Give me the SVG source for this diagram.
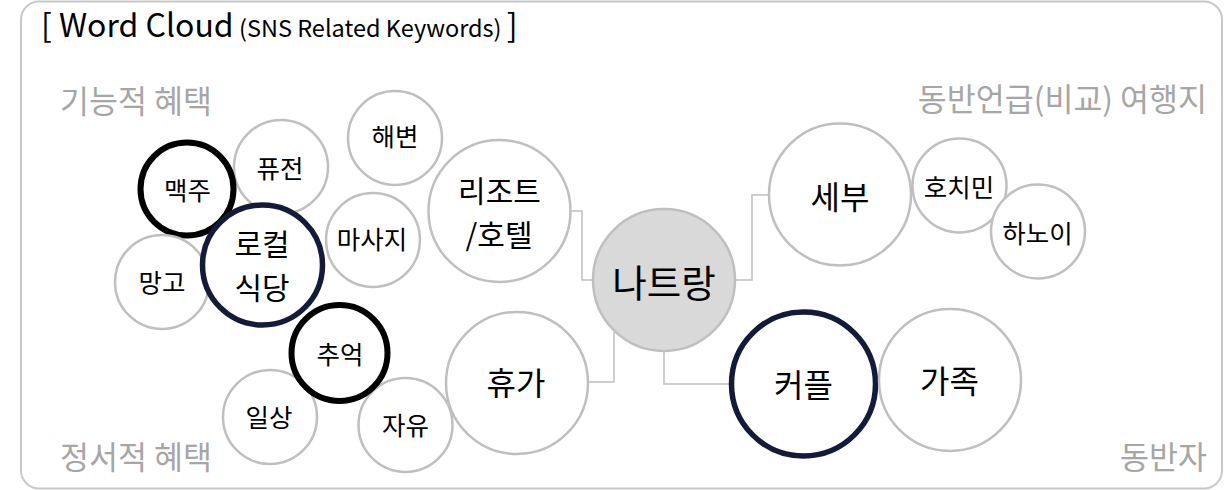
<svg xmlns="http://www.w3.org/2000/svg" width="1224" height="490" viewBox="0 0 1224 490">
<style>
text{font-family:"Noto Sans CJK KR","Noto Sans",sans-serif;}
.g{fill:#fff;stroke:#bfbfbf;stroke-width:2.5;}
.k{fill:#fff;stroke:#000;stroke-width:6;}
.n{fill:#fff;stroke:#141b38;stroke-width:5.5;}
.c{fill:#d9d9d9;stroke:#bfbfbf;stroke-width:2.5;}
.t{fill:#000;text-anchor:middle;dominant-baseline:central;}
.s{font-size:25.5px;}
.b{font-size:32px;}
.m{font-size:30px;}
.cat{fill:#a6a6a6;font-size:31.5px;dominant-baseline:central;}
.conn{fill:none;stroke:#bfbfbf;stroke-width:1.5;}
</style>
<rect x="21" y="1.5" width="1201" height="487" rx="18" fill="#fff" stroke="#c8c8c8" stroke-width="2"/>
<g id="title"><text x="41" y="37" fill="#000"><tspan font-size="32">[ Word Cloud</tspan><tspan font-size="23.5"> (SNS Related Keywords) </tspan><tspan font-size="32">]</tspan></text></g>
<g id="labels">
<text class="cat" x="60" y="99">기능적 혜택</text>
<text class="cat" x="60" y="455">정서적 혜택</text>
<text class="cat" x="1207" y="97" text-anchor="end">동반언급(비교) 여행지</text>
<text class="cat" x="1207" y="455" text-anchor="end">동반자</text>
</g>
<g id="connectors">
<path class="conn" d="M572 211 H582 V280 H592"/>
<path class="conn" d="M736 280 H752 V195 H768"/>
<path class="conn" d="M588 382 H614 V332"/>
<path class="conn" d="M664 352 V384 H730"/>
</g>
<g id="n-haebyeon"><circle class="g" cx="395" cy="138" r="47"/><text class="t s" x="395" y="134">해변</text></g>
<g id="n-fusion"><circle class="g" cx="281" cy="167" r="47"/><text class="t s" x="280" y="166">퓨전</text></g>
<g id="n-maekju"><circle class="k" cx="187" cy="189" r="46.5"/><text class="t s" x="187.5" y="188">맥주</text></g>
<g id="n-massage"><circle class="g" cx="373" cy="240" r="47"/><text class="t s" x="372" y="237.5">마사지</text></g>
<g id="n-mango"><circle class="g" cx="162" cy="282" r="47"/><text class="t s" x="162" y="280">망고</text></g>
<g id="n-local"><circle class="n" cx="262.5" cy="265" r="60"/><text class="t m" x="262" y="242">로컬<tspan x="262" dy="43.5">식당</tspan></text></g>
<g id="n-ilsang"><circle class="g" cx="270" cy="417" r="47"/><text class="t s" x="269" y="415">일상</text></g>
<g id="n-jayu"><circle class="g" cx="405.5" cy="425" r="47"/><text class="t s" x="405.5" y="423.5">자유</text></g>
<g id="n-chueok"><circle class="k" cx="339.5" cy="353" r="48"/><text class="t s" x="340" y="352">추억</text></g>
<g id="n-resort"><circle class="g" cx="499.5" cy="211" r="71"/><text class="t m" x="499.5" y="189">리조트<tspan x="499" dy="43.5">/호텔</tspan></text></g>
<g id="n-hyuga"><circle class="g" cx="517" cy="383" r="71"/><text class="t b" x="516" y="381">휴가</text></g>
<g id="n-nhatrang"><circle class="c" cx="664" cy="280" r="71"/><text class="t" x="664" y="280" font-size="37.5">나트랑</text></g>
<g id="n-cebu"><circle class="g" cx="840" cy="194.5" r="71"/><text class="t b" x="840" y="195">세부</text></g>
<g id="n-hochiminh"><circle class="g" cx="959.5" cy="185.5" r="47"/><text class="t s" x="959" y="185">호치민</text></g>
<g id="n-hanoi"><circle class="g" cx="1038" cy="231.5" r="47"/><text class="t s" x="1037.5" y="231.5">하노이</text></g>
<g id="n-couple"><circle class="n" cx="803.5" cy="384" r="72"/><text class="t b" x="803.5" y="382.5">커플</text></g>
<g id="n-family"><circle class="g" cx="950" cy="380" r="71"/><text class="t b" x="949.5" y="379">가족</text></g>
</svg>
